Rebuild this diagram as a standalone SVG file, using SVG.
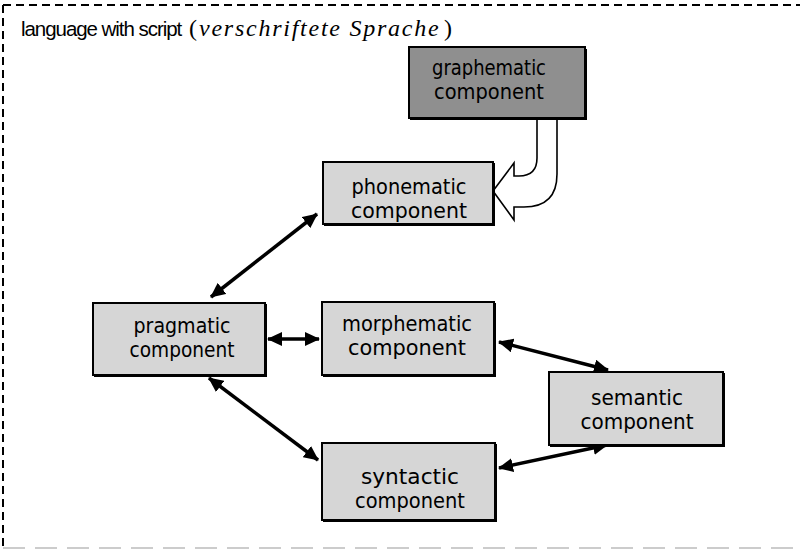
<svg xmlns="http://www.w3.org/2000/svg" width="800" height="559" viewBox="0 0 800 559">
<defs>
<style>
.box{fill:#d6d6d6;stroke:#000;stroke-width:2}
.dark{fill:#8f8f8f;stroke:#000;stroke-width:2}
.shadow{fill:#000}
.lbl{font-family:"DejaVu Sans","Liberation Sans",sans-serif;font-size:20.5px;fill:#000;text-anchor:middle}
.conn{stroke:#000;stroke-width:3.5;fill:none;marker-start:url(#ah);marker-end:url(#ah)}
.ttl{font-family:"Liberation Sans",Arial,sans-serif;font-size:20.5px;fill:#000}
.ser{font-family:"Liberation Serif","Times New Roman",serif;font-size:24px}
</style>
<marker id="ah" markerUnits="userSpaceOnUse" markerWidth="16" markerHeight="14" refX="14" refY="7" orient="auto-start-reverse" viewBox="0 0 16 14">
<path d="M0,0 L15,7 L0,14 z" fill="#000"/>
</marker>
</defs>
<rect width="800" height="559" fill="#fff"/>
<g id="frame">
<path d="M3,5 H800" stroke="#000" stroke-width="2" stroke-dasharray="8,5" fill="none"/>
<path d="M3,5 V548" stroke="#000" stroke-width="2" stroke-dasharray="8,5" fill="none"/>
<path d="M3,548 H800" stroke="#cccccc" stroke-width="2" stroke-dasharray="22,10" fill="none"/>
<text class="ttl" x="21" y="36"><tspan letter-spacing="-1.05">language with script</tspan><tspan class="ser" x="189">(</tspan><tspan class="ser" x="199" font-style="italic" letter-spacing="1.75">verschriftete Sprache</tspan><tspan class="ser" x="444">)</tspan></text>
</g>
<g id="connectors">
<line class="conn" x1="317" y1="214" x2="211" y2="297"/>
<line class="conn" x1="268" y1="339" x2="319" y2="339"/>
<line class="conn" x1="499" y1="342" x2="608" y2="370"/>
<line class="conn" x1="209" y1="378" x2="318" y2="460"/>
<line class="conn" x1="499" y1="468" x2="607" y2="445"/>
<path id="curved" d="M537,118 L537,158 Q537,176 519,176 L514,176 L514,163 L493,191 L514,220 L514,207 L524,207 Q557,207 557,174 L557,118" fill="#fff" stroke="#000" stroke-width="1.6"/>
</g>
<g id="graphematic">
<rect class="shadow" x="410" y="49" width="177" height="71"/>
<rect class="dark" x="409" y="47" width="176" height="71"/>
<text class="lbl" x="489" y="75" textLength="114" lengthAdjust="spacingAndGlyphs">graphematic</text>
<text class="lbl" x="489" y="99" textLength="110" lengthAdjust="spacingAndGlyphs">component</text>
</g>
<g id="phonematic">
<rect class="shadow" x="324" y="163" width="171" height="63"/>
<rect class="box" x="323" y="162" width="170" height="62"/>
<text class="lbl" x="409" y="194" textLength="115" lengthAdjust="spacingAndGlyphs">phonematic</text>
<text class="lbl" x="409" y="218" textLength="116" lengthAdjust="spacingAndGlyphs">component</text>
</g>
<g id="pragmatic">
<rect class="shadow" x="94" y="304" width="173" height="73"/>
<rect class="box" x="93" y="303" width="172" height="72"/>
<text class="lbl" x="182" y="333" textLength="97" lengthAdjust="spacingAndGlyphs">pragmatic</text>
<text class="lbl" x="182" y="357" textLength="105" lengthAdjust="spacingAndGlyphs">component</text>
</g>
<g id="morphematic">
<rect class="shadow" x="323" y="303" width="173" height="74"/>
<rect class="box" x="322" y="302" width="172" height="73"/>
<text class="lbl" x="407" y="331" textLength="130" lengthAdjust="spacingAndGlyphs">morphematic</text>
<text class="lbl" x="407" y="355" textLength="118" lengthAdjust="spacingAndGlyphs">component</text>
</g>
<g id="semantic">
<rect class="shadow" x="550" y="373" width="175" height="74"/>
<rect class="box" x="549" y="372" width="174" height="73"/>
<text class="lbl" x="637" y="405" textLength="92" lengthAdjust="spacingAndGlyphs">semantic</text>
<text class="lbl" x="637" y="429" textLength="113" lengthAdjust="spacingAndGlyphs">component</text>
</g>
<g id="syntactic">
<rect class="shadow" x="323" y="444" width="174" height="78"/>
<rect class="box" x="322" y="443" width="173" height="77"/>
<text class="lbl" x="410" y="484" textLength="98" lengthAdjust="spacingAndGlyphs">syntactic</text>
<text class="lbl" x="410" y="508" textLength="110" lengthAdjust="spacingAndGlyphs">component</text>
</g>
</svg>
